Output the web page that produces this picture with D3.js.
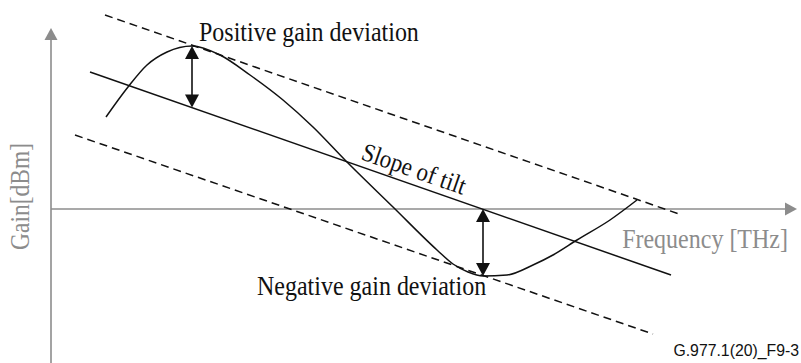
<!DOCTYPE html>
<html>
<head>
<meta charset="utf-8">
<script src="https://cdn.jsdelivr.net/npm/d3@7"></script>
<style>
  html, body { margin: 0; padding: 0; background: #fff; }
  svg { display: block; }
</style>
</head>
<body>
<svg id="chart" width="801" height="363"></svg>
<script>
// Gain profile across the band (frequency, gain) in arbitrary units
const gainFreq = [5.5, 7.7, 9.6, 11.6, 14.1, 16.9, 19.9, 23.2, 26.2, 29.4, 34.2, 38.6, 40.2, 41.7, 43.2, 45.6, 48.2, 50.2, 52.6, 55.9, 58.6];
const gainValue = [9.2, 12.2, 14.4, 15.7, 16.3, 15.4, 13.4, 10.9, 8.2, 4.9, 0.2, -4.1, -5.5, -6.3, -6.7, -6.6, -5.6, -4.6, -3.1, -1.1, 0.9];

// Tilt line and its upper / lower envelopes: [start, end]
const tiltFreq = [3.9, 62.0];
const tiltGain = [13.7, -6.6];
const upperFreq = [5.4, 63.1];
const upperGain = [19.4, -0.6];
const lowerFreq = [2.4, 60.2];
const lowerGain = [7.4, -12.5];

// Deviation markers: frequency, gain at tilt line, gain at curve extreme
const devFreq = [14.1, 43.2];
const devTilt = [10.14, 0.0];
const devPeak = [16.3, -6.7];

const labels = {
  yAxis: "Gain[dBm]",
  xAxis: "Frequency [THz]",
  positive: "Positive gain deviation",
  negative: "Negative gain deviation",
  slope: "Slope of tilt",
  figId: "G.977.1(20)_F9-3"
};

const svg = d3.select("#chart");
const x = d3.scaleLinear().domain([0, 74.6]).range([51, 797]);
const y = d3.scaleLinear().domain([-15.4, 18.1]).range([363, 28]);

const axisColor = "#8c8c8c";
const serif = "'Liberation Serif', 'Times New Roman', serif";

// Axes with arrowheads
svg.append("line")
  .attr("x1", x(0)).attr("y1", y(-15.4))
  .attr("x2", x(0)).attr("y2", y(18.1) + 10)
  .attr("stroke", axisColor).attr("stroke-width", 1.6);
svg.append("path")
  .attr("d", `M${x(0)},${y(18.1)} L${x(0) - 6.5},${y(18.1) + 12} L${x(0) + 6.5},${y(18.1) + 12} Z`)
  .attr("fill", axisColor);

svg.append("line")
  .attr("x1", x(0)).attr("y1", y(0))
  .attr("x2", x(74.6) - 10).attr("y2", y(0))
  .attr("stroke", axisColor).attr("stroke-width", 1.6);
svg.append("path")
  .attr("d", `M${x(74.6)},${y(0)} L${x(74.6) - 12},${y(0) - 6.5} L${x(74.6) - 12},${y(0) + 6.5} Z`)
  .attr("fill", axisColor);

// Tilt and envelope lines
function segment(fx, gy, dashed) {
  svg.append("line")
    .attr("x1", x(fx[0])).attr("y1", y(gy[0]))
    .attr("x2", x(fx[1])).attr("y2", y(gy[1]))
    .attr("stroke", "#111").attr("stroke-width", 1.5)
    .attr("stroke-dasharray", dashed ? "8,5" : null);
}
segment(upperFreq, upperGain, true);
segment(lowerFreq, lowerGain, true);
segment(tiltFreq, tiltGain, false);

// Gain curve
const curvePts = gainFreq.map((f, i) => [f, gainValue[i]]);
svg.append("path")
  .datum(curvePts)
  .attr("d", d3.line().x(d => x(d[0])).y(d => y(d[1])).curve(d3.curveMonotoneX))
  .attr("fill", "none").attr("stroke", "#111").attr("stroke-width", 1.5);

// Double-headed deviation arrows
devFreq.forEach((f, i) => {
  const px = x(f);
  const top = y(Math.max(devTilt[i], devPeak[i]));
  const bot = y(Math.min(devTilt[i], devPeak[i]));
  const hw = 7, hh = 13;
  svg.append("line")
    .attr("x1", px).attr("y1", top + hh - 1)
    .attr("x2", px).attr("y2", bot - hh + 1)
    .attr("stroke", "#111").attr("stroke-width", 1.6);
  svg.append("path")
    .attr("d", `M${px},${top} L${px - hw},${top + hh} L${px + hw},${top + hh} Z`)
    .attr("fill", "#111");
  svg.append("path")
    .attr("d", `M${px},${bot} L${px - hw},${bot - hh} L${px + hw},${bot - hh} Z`)
    .attr("fill", "#111");
});

// Serif labels: slightly tall glyphs, placed by baseline origin
function serifLabel(transform, text, size, color) {
  svg.append("text")
    .attr("transform", `${transform} scale(1,1.12)`)
    .attr("font-family", serif).attr("font-size", size)
    .attr("fill", color)
    .text(text);
}

serifLabel("translate(29,250) rotate(-90)", labels.yAxis, 23.5, axisColor);

svg.append("text")
  .attr("transform", "translate(788,248) scale(1,1.12)")
  .attr("text-anchor", "end")
  .attr("font-family", serif).attr("font-size", 24)
  .attr("fill", axisColor)
  .text(labels.xAxis);

serifLabel("translate(199,41)", labels.positive, 24, "#111");
serifLabel("translate(257,295)", labels.negative, 24, "#111");

const tiltAngle = Math.atan2(y(tiltGain[1]) - y(tiltGain[0]), x(tiltFreq[1]) - x(tiltFreq[0])) * 180 / Math.PI;
serifLabel(`translate(360,159) rotate(${tiltAngle})`, labels.slope, 23, "#111");

svg.append("text")
  .attr("x", 799).attr("y", 356).attr("text-anchor", "end")
  .attr("font-family", "'Liberation Sans', Arial, sans-serif").attr("font-size", 15.8)
  .attr("fill", "#111")
  .text(labels.figId);
</script>
</body>
</html>
